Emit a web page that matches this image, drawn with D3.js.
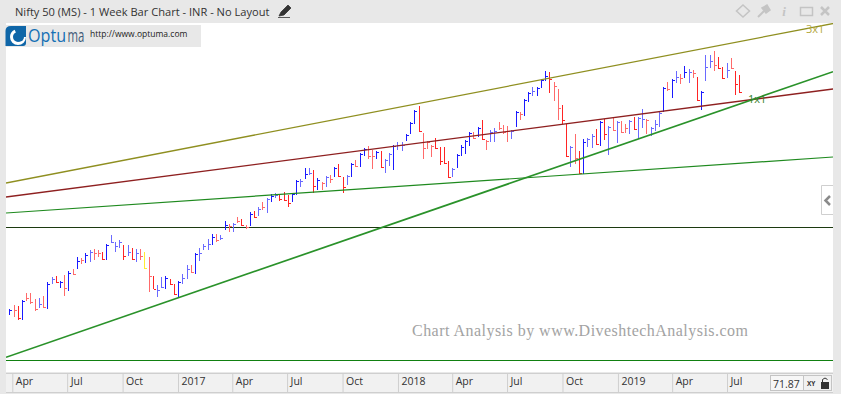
<!DOCTYPE html>
<html>
<head>
<meta charset="utf-8">
<script src="https://cdn.jsdelivr.net/npm/d3@7"></script>
<style>
  html, body { margin: 0; padding: 0; background: #e8e8e8; overflow: hidden; }
  text { font-family: "Open Sans", sans-serif; }
</style>
</head>
<body>
<div id="chart"></div>
<script>
// Weekly bars, first one in the week of 28 Mar 2016. Prices are estimates, the chart shows no price axis
var firstWeek = new Date(2016, 2, 28);

var highs = [
  6830, 6900, 6880, 7000, 7140, 7140, 7020, 7050, 7080, 7360, 7460, 7490, 7390, 7500, 7580, 7620, 7860, 7840, 7940, 8000, 8020, 7990, 7960, 8130, 8300,
  8170, 8200, 8100, 8090, 8040, 8020, 8020, 7960, 7860, 7490, 7300, 7460, 7480, 7420, 7320, 7380, 7520, 7700, 7700, 7940, 8040, 8120, 8220, 8320, 8320,
  8300, 8580, 8520, 8550, 8660, 8620, 8500, 8760, 8780, 8860, 8960, 9040, 9120, 9150, 9100, 9160, 9100, 9150, 9400, 9420, 9640, 9640, 9600, 9440, 9360,
  9480, 9500, 9660, 9720, 9460, 9500, 9740, 9800, 9940, 10040, 10080, 10000, 9980, 9980, 9820, 9940, 10100, 10160, 10160, 10320, 10560, 10800, 10880, 10340, 10180,
  10100, 10240, 10060, 10060, 9780, 9640, 9920, 10100, 10200, 10360, 10360, 10460, 10600, 10200, 10400, 10440, 10560, 10500, 10480, 10400, 10780, 10760, 11020, 11160, 11260,
  11260, 11420, 11580, 11560, 11360, 11220, 10900, 10520, 10080, 10320, 9980, 10220, 10240, 10320, 10420, 10580, 10620, 10480, 10640, 10580, 10580, 10520, 10600, 10660, 10660,
  10820, 10620, 10460, 10600, 10760, 11260, 11360, 11420, 11580, 11520, 11680, 11620, 11600, 11460, 11180, 11900, 11900, 11980, 11860, 11660, 11740, 11840, 11580, 11500
];
var lows = [
  6700, 6670, 6600, 6600, 6980, 6930, 6790, 6850, 6840, 6820, 7320, 7350, 7240, 7080, 7180, 7510, 7620, 7720, 7740, 7770, 7800, 7870, 7800, 7800, 8140,
  7960, 8040, 7800, 7890, 7800, 7760, 7800, 7620, 7160, 7220, 7060, 7240, 7220, 7300, 7100, 7040, 7320, 7420, 7550, 7520, 7780, 8000, 8000, 8100, 8170,
  8200, 8400, 8360, 8360, 8550, 8480, 8420, 8480, 8640, 8680, 8790, 8740, 8960, 9040, 8980, 8980, 8860, 8960, 9100, 9260, 9420, 9500, 9150, 9200, 9200,
  9260, 9340, 9460, 9460, 9150, 9300, 9460, 9660, 9660, 9880, 9820, 9620, 9820, 9640, 9540, 9680, 9600, 10000, 9980, 10180, 10320, 10520, 10360, 9820, 10020,
  9860, 10020, 9700, 9720, 9440, 9460, 9640, 9880, 9920, 10080, 10220, 10260, 10200, 10000, 10160, 10160, 10400, 10320, 10160, 10220, 10460, 10600, 10680, 10960, 11080,
  11080, 11240, 11380, 11140, 10980, 10600, 10520, 9870, 9670, 9720, 9530, 9520, 10060, 10040, 10100, 10080, 10200, 9900, 10380, 10140, 10340, 10340, 10320, 10400, 10220,
  10440, 10320, 10280, 10380, 10460, 10760, 11180, 11040, 11340, 11320, 11440, 11340, 11440, 10980, 10800, 11390, 11640, 11580, 11620, 11420, 11440, 11620, 11100, 11140
];
var closes = [
  6810, 6810, 6630, 6980, 7030, 6970, 6830, 6930, 6870, 7330, 7430, 7360, 7370, 7250, 7550, 7530, 7790, 7800, 7910, 7960, 7940, 7940, 7830, 8100, 8170,
  8080, 8150, 7880, 7960, 7830, 7950, 7890, 7640, 7490, 7230, 7210, 7260, 7450, 7320, 7120, 7360, 7440, 7620, 7560, 7920, 7940, 8080, 8120, 8260, 8210,
  8250, 8510, 8480, 8530, 8580, 8510, 8460, 8720, 8660, 8820, 8850, 9020, 9080, 9100, 9020, 9000, 8940, 9130, 9380, 9380, 9520, 9540, 9280, 9400, 9340,
  9460, 9420, 9640, 9480, 9260, 9480, 9720, 9680, 9920, 10020, 9880, 9880, 9960, 9660, 9800, 9920, 10080, 10100, 10100, 10300, 10540, 10780, 10380, 10040, 10160,
  10080, 10040, 9780, 9740, 9460, 9620, 9900, 10060, 10180, 10340, 10240, 10440, 10220, 10180, 10360, 10380, 10440, 10360, 10380, 10380, 10760, 10720, 11000, 11140, 11180,
  11240, 11400, 11480, 11420, 11280, 10840, 10600, 9880, 10060, 9850, 9550, 10160, 10220, 10290, 10120, 10560, 10320, 10460, 10400, 10560, 10360, 10440, 10580, 10420, 10640,
  10620, 10600, 10440, 10520, 10740, 11240, 11220, 11400, 11460, 11440, 11560, 11560, 11540, 11000, 11160, 11660, 11780, 11700, 11640, 11440, 11600, 11640, 11320, 11160
];
// B strong blue, b pale blue, R strong red, r pale red, Y yellow
var barKinds = (
  "BrRBrrrbrBbRBrBrBrBbrrRBb" +
  "bbRbRbrYrRbbBRRBbbrBbbbBr" +
  "bBrbrRrBRbrbBbRRRBBbBbRBr" +
  "brBRRbBrBBrrBRbbBbbBBBRrr" +
  "rRRRRbBBBBrBRrbbrrrbBrBBb" +
  "BBBRrrRRbrRBbbRBRbrbrrbRb" +
  "brbbbBrBbrBbrRBbbrRRbrRR"
).split("");

var quarterTicks = [
  [2016, 3, "Apr"], [2016, 6, "Jul"], [2016, 9, "Oct"], [2017, 0, "2017"],
  [2017, 3, "Apr"], [2017, 6, "Jul"], [2017, 9, "Oct"], [2018, 0, "2018"],
  [2018, 3, "Apr"], [2018, 6, "Jul"], [2018, 9, "Oct"], [2019, 0, "2019"],
  [2019, 3, "Apr"], [2019, 6, "Jul"]
];

// Trend line prices at the left and right edge of the plot
var olivePrices = [9340, 12530];
var maroonPrices = [9060, 11220];
var steepGreenPrices = [5854, 11566];
var flatGreenPrices = [8740, 9860];
var upperHorizontal = 8450;
var lowerHorizontal = 5790;

var barColours = { B: "#1a1aff", b: "#6a6aff", R: "#ff2424", r: "#ff6a6a", Y: "#ffee33" };

var w = 841, h = 394;
var plot = { left: 6, right: 833, top: 23, bottom: 372 };

var svg = d3.select("#chart").append("svg")
    .attr("width", w)
    .attr("height", h)
    .style("display", "block");

svg.append("clipPath").attr("id", "plotClip").append("rect")
    .attr("x", plot.left).attr("y", plot.top)
    .attr("width", plot.right - plot.left).attr("height", plot.bottom - plot.top);

// Window frame
svg.append("rect").attr("width", w).attr("height", h).attr("fill", "#e8e8e8");
svg.append("rect")
    .attr("x", plot.left).attr("y", plot.top)
    .attr("width", plot.right - plot.left).attr("height", plot.bottom - plot.top)
    .attr("fill", "#fff");

// Scales: the time scale is pinned on the Apr 2016 and Jul 2019 dividers
var x = d3.scaleTime()
    .domain([new Date(2016, 3, 1), new Date(2019, 6, 1)])
    .range([12.3, 727]);
var y = d3.scaleLinear()
    .domain([12540, 5560])
    .range([plot.top, plot.bottom]);

var bars = highs.map(function(high, i) {
    return {
        date: d3.timeWeek.offset(firstWeek, i),
        high: high,
        low: lows[i],
        close: closes[i],
        kind: barKinds[i]
    };
});

function barX(d) {
    return Math.floor(x(d.date)) + 0.5;
}

var chart = svg.append("g").attr("clip-path", "url(#plotClip)");

// Horizontal levels
[upperHorizontal, lowerHorizontal].forEach(function(level, i) {
    chart.append("line")
        .attr("x1", plot.left).attr("x2", plot.right)
        .attr("y1", Math.floor(y(level)) + 0.5).attr("y2", Math.floor(y(level)) + 0.5)
        .attr("stroke", i === 0 ? "#1c3a10" : "#118011")
        .attr("stroke-width", 1);
});

// High-low bars with the close tick on the right
var barGroup = chart.append("g").attr("shape-rendering", "crispEdges");
barGroup.selectAll("line.range").data(bars).enter().append("line")
    .attr("class", "range")
    .attr("x1", barX).attr("x2", barX)
    .attr("y1", function(d) { return Math.round(y(d.high)); })
    .attr("y2", function(d) { return Math.round(y(d.low)); })
    .attr("stroke", function(d) { return barColours[d.kind]; });
barGroup.selectAll("line.close").data(bars).enter().append("line")
    .attr("class", "close")
    .attr("x1", barX)
    .attr("x2", function(d) { return barX(d) + 2; })
    .attr("y1", function(d) { return Math.round(y(d.close)) + 0.5; })
    .attr("y2", function(d) { return Math.round(y(d.close)) + 0.5; })
    .attr("stroke", function(d) { return barColours[d.kind]; });

// Trend lines run from plot edge to plot edge
var edgeDates = [x.invert(plot.left), x.invert(plot.right)];
var trendLine = d3.line()
    .x(function(d, i) { return x(edgeDates[i]); })
    .y(function(d) { return y(d); });

[
    { prices: flatGreenPrices, colour: "#1f8a1f", width: 1.2 },
    { prices: maroonPrices, colour: "#8e2020", width: 1.3 },
    { prices: olivePrices, colour: "#8f8f20", width: 1.3 },
    { prices: steepGreenPrices, colour: "#2a922a", width: 1.7 }
].forEach(function(t) {
    chart.append("path")
        .attr("d", trendLine(t.prices))
        .attr("fill", "none")
        .attr("stroke", t.colour)
        .attr("stroke-width", t.width);
});

svg.append("text").attr("x", 806).attr("y", 33).attr("font-size", 11)
    .attr("fill", "#b3a73c").text("3x1");
svg.append("text").attr("x", 748).attr("y", 103).attr("font-size", 11)
    .attr("fill", "#35802a").text("1x1");

// Watermark
svg.append("text")
    .attr("x", 412).attr("y", 336)
    .attr("font-size", 16)
    .attr("fill", "#a3a3a3")
    .style("font-family", "'Liberation Serif', serif")
    .attr("textLength", 336)
    .attr("lengthAdjust", "spacing")
    .text("Chart Analysis by www.DiveshtechAnalysis.com");

// Title bar
svg.append("text")
    .attr("x", 15).attr("y", 16)
    .attr("font-size", 11.1)
    .attr("fill", "#333")
    .text("Nifty 50 (MS) - 1 Week Bar Chart - INR - No Layout");
svg.append("path")
    .attr("d", "M279 16 L281 12 L288 5 L291 8 L284 15 Z M278 17.5 h12")
    .attr("fill", "#333").attr("stroke", "#333").attr("stroke-width", 0.8);

// Window buttons
var tools = svg.append("g").attr("fill", "none").attr("stroke", "#c4c4c4").attr("stroke-width", 1.5);
tools.append("path").attr("d", "M743 5 L749.5 11 L743 17 L736.5 11 Z");
tools.append("path").attr("d", "M758 17 L764 11").attr("stroke-width", 2);
tools.append("path").attr("d", "M762 8 L767 5 L770 10 L766 13 Z").attr("fill", "#c4c4c4");
tools.append("rect").attr("x", 800.5).attr("y", 7.5).attr("width", 12).attr("height", 8);
tools.append("path").attr("d", "M821 7 L829 15 M829 7 L821 15").attr("stroke-width", 2.5);
svg.append("text").attr("x", 784).attr("y", 16).attr("font-size", 13)
    .attr("font-style", "italic").attr("font-weight", 700)
    .attr("text-anchor", "middle").attr("fill", "#c4c4c4")
    .style("font-family", "'Liberation Serif', serif").text("i");

// Logo strip, the two colours of the wordmark are squeezed to the logo's narrow width
svg.append("rect").attr("x", plot.left).attr("y", 25).attr("width", 195).attr("height", 22).attr("fill", "#e8e8e8");
svg.append("path")
    .attr("d", "M11 26 H26 V43 Q26 46 23 46 H5.5 V31 Q5.5 26 11 26 Z")
    .attr("fill", "#0f66a8");
svg.append("circle").attr("cx", 18).attr("cy", 37).attr("r", 6.5)
    .attr("fill", "none").attr("stroke", "#fff").attr("stroke-width", 3)
    .attr("stroke-dasharray", "27 14");
svg.append("circle").attr("cx", 19.5).attr("cy", 37).attr("r", 4.5).attr("fill", "#0f66a8");
svg.append("text").attr("transform", "translate(28,42) scale(0.85,1)").attr("font-size", 19)
    .attr("fill", "#1570b5").text("Optu");
svg.append("text").attr("transform", "translate(67.5,42) scale(0.6,1)").attr("font-size", 19)
    .attr("fill", "#3f5a78").text("ma");
svg.append("text").attr("x", 90).attr("y", 37).attr("font-size", 8.5)
    .attr("fill", "#222").text("http://www.optuma.com");

// Collapse tab on the right
svg.append("path").attr("d", "M833 185.5 H821.5 V214.5 H833")
    .attr("fill", "#fff").attr("stroke", "#cfcfcf");
svg.append("path").attr("d", "M830 196 L825.5 200.5 L830 205")
    .attr("fill", "none").attr("stroke", "#8a8a8a").attr("stroke-width", 2.5);

// Date axis strip
svg.append("rect").attr("x", plot.left).attr("y", 373).attr("width", 827).attr("height", 19)
    .attr("fill", "#f1f1f1");
svg.append("line").attr("x1", plot.left).attr("x2", 833).attr("y1", 373.5).attr("y2", 373.5)
    .attr("stroke", "#cfcfcf");
svg.append("line").attr("x1", plot.left).attr("x2", 833).attr("y1", 392.5).attr("y2", 392.5)
    .attr("stroke", "#cfcfcf");

var tickDates = quarterTicks.map(function(t) { return new Date(t[0], t[1], 1); });
var tickLabels = quarterTicks.map(function(t) { return t[2]; });

var xAxis = d3.axisBottom(x)
    .tickValues(tickDates)
    .tickSize(19)
    .tickFormat(function(d, i) { return tickLabels[i]; });

var axisGroup = svg.append("g")
    .attr("transform", "translate(0,373)")
    .call(xAxis);
axisGroup.select(".domain").remove();
axisGroup.selectAll(".tick line").attr("stroke", "#cfcfcf");
axisGroup.selectAll(".tick text")
    .attr("x", 3)
    .attr("y", 5)
    .attr("dy", "0.71em")
    .attr("text-anchor", "start")
    .attr("font-size", 10.5)
    .attr("font-family", "'Open Sans', sans-serif")
    .attr("fill", "#333");

// Price readout and lock box
svg.append("rect").attr("x", 770.5).attr("y", 375.5).attr("width", 33).attr("height", 15)
    .attr("fill", "#f7f7f7").attr("stroke", "#c4c4c4");
svg.append("text").attr("x", 773).attr("y", 388).attr("font-size", 10.5).attr("fill", "#333").text("71.87");
svg.append("rect").attr("x", 803.5).attr("y", 375.5).attr("width", 28).attr("height", 15)
    .attr("fill", "#f1f1f1").attr("stroke", "#c4c4c4");
svg.append("text").attr("x", 807).attr("y", 386).attr("font-size", 6.5).attr("font-weight", 700)
    .attr("fill", "#333").text("XY");
svg.append("rect").attr("x", 821).attr("y", 382).attr("width", 8).attr("height", 7).attr("fill", "#333");
svg.append("path").attr("d", "M822.5 382 V379.5 Q825 376.5 827.5 379.5").attr("fill", "none").attr("stroke", "#333");
</script>
</body>
</html>
